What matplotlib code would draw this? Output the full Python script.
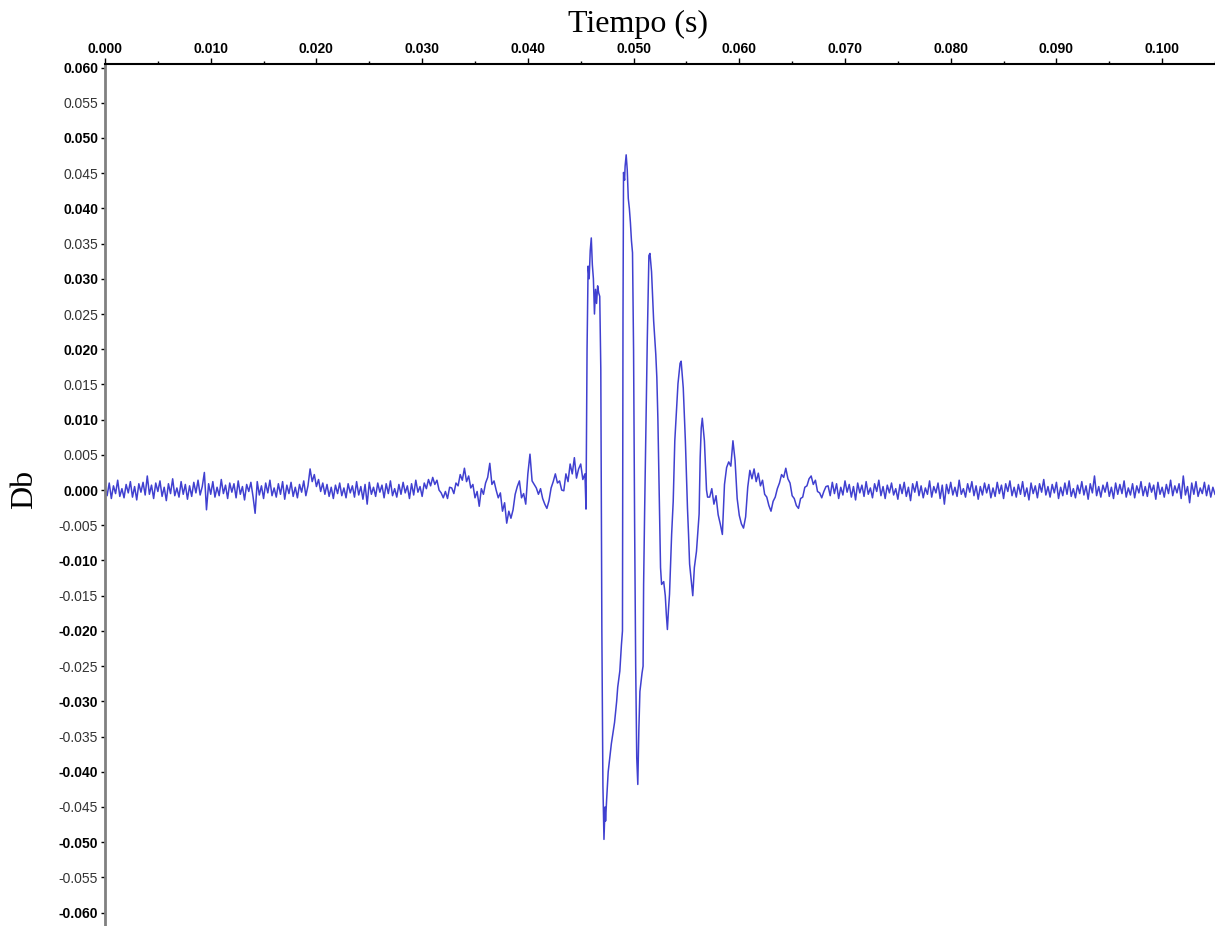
import numpy as np
import matplotlib
matplotlib.use('Agg')
import matplotlib.pyplot as plt

# Señal (unidades de 1e-4), tramo inicial en rejilla de 0.2 ms desde 0.0 ms
ruido_inicio = [
    3, -8, 10, -12, 6, -5, 14, -9, 2, -11,
    8, -4, 12, -10, 5, -14, 9, -3, 11, -7,
    20, -6, 7, -12, 10, -2, 13, -9, 4, -15,
    9, -5, 16, -8, 3, -10, 12, -6, 8, -13,
    6, -9, 11, -4, 14, -7, 5, 25, -28, 9,
    -6, 12, -10, 4, -8, 15, -5, 7, -12, 10,
    -3, 9, -11, 13, -6, 5, -14, 8, -2, 11,
    -9, -33, 12, -7, 6, -12, 10, -4, 14, -8,
    3, -10, 9, -6, 12, -13, 7, -5, 11, -9,
    4, -11, 8, -3, 13, -8, 6, 30, 12, 22,
    5, 15, -2, 10, -6, 8, -9, 4, -12, 7,
    -5, 10, -8, 3, -11, 9, -4, 6, -10, 12,
    -7, 5, -13, 8, -20, 11, -6, 4, -9, 10,
    -3, 7, -11, 9, -5, 13, -8, 2, -10, 8,
    -6, 11, -4, 6, -12, 9, -7, 14, -3, 5,
    -9, 10, 2, 15, 6, 18, 8, 14, 0, -4,
    -11, -2, -12, 4, 3, -5, 10, 6, 22, 14,
    31, 12, 20, 3, 8, -11, -2, -23, 2, -6,
    10, 18, 38, 8, 13, 0, -11, -4, -30, -18,
    -47, -30, -40, -28, -6, 5, 13, -11, -5, -20,
    23, 51, 13, 8, 3, -6, 2, -12, -20, -26,
    -15, 3, 12, 23, 10, 13, 0, -1, 23, 12,
    37, 23, 46, 17, 30, 37, 15, 23,
]

# Rafaga principal: puntos leidos (ms, 1e-4)
t_rafaga = [
    45.5, 45.6, 45.7, 45.8, 45.9, 46.0, 46.1, 46.2, 46.3, 46.4,
    46.5, 46.6, 46.7, 46.8, 46.9, 47.0, 47.1, 47.2, 47.3, 47.35,
    47.45, 47.6, 47.75, 47.9, 48.05, 48.2, 48.4, 48.5, 48.7, 48.85,
    48.95, 49.0, 49.05, 49.15, 49.2, 49.3, 49.4, 49.5, 49.6, 49.7,
    49.8, 49.9, 50.0, 50.1, 50.2, 50.3, 50.4, 50.5, 50.6, 50.8,
    50.9, 50.95, 51.05, 51.2, 51.3, 51.45, 51.55, 51.7, 51.9, 52.1,
    52.2, 52.3, 52.5, 52.55, 52.65, 52.85, 53.0, 53.1, 53.2, 53.3,
    53.4, 53.6, 53.75, 53.9, 54.2, 54.4, 54.5, 54.7, 54.9, 55.1,
    55.2, 55.3, 55.5, 55.6, 55.75, 55.95, 56.2, 56.3, 56.4, 56.5,
    56.7, 56.9, 57.0,
]
v_rafaga = [
    -27, 200, 318, 300, 340, 358, 320, 300, 250, 285,
    265, 290, 280, 275, 172, -200, -420, -496, -450, -470,
    -440, -400, -380, -360, -345, -330, -300, -280, -257, -220,
    -200, 245, 451, 440, 460, 476, 455, 414, 400, 380,
    354, 337, 198, -50, -250, -380, -418, -340, -286, -260,
    -250, -134, -26, 117, 216, 333, 336, 310, 240, 193,
    160, 101, -63, -110, -134, -130, -150, -177, -198, -170,
    -148, -63, -16, 70, 151, 180, 183, 145, 70, -26,
    -63, -105, -134, -150, -110, -87, -34, 46, 88, 102,
    70, 0, -10,
]

# Cola, rejilla de 0.2 ms desde 57.2 ms
cola = [
    -10, 2, -20, -8, -35, -48, -63, 8, 32, 40,
    34, 70, 42, -12, -36, -48, -54, -38, 4, 28,
    16, 30, 12, 24, 6, 14, -6, -10, -22, -30,
    -16, -10, 2, 10, 22, 18, 31, 16, 10, -8,
    -12, -22, -26, -12, -10, 4, 6, 16, 20, 8,
    14, -2, -4, -11, -2, 5,
    6, -8, 11, -5, 9, -12, 4, -7, 13, -3,
    8, -10, 5, -14, 10, -4, 7, -9, 12, -6,
    3, -11, 9, -2, 14, -8, 5, -12, 7, -4,
    10, -7, 2, -13, 8, -5, 11, -9, 4, -15,
    9, -3, 12, -8, 6, -11, 3, -6, 13, -10,
    5, -4, 10, -12, 7, -20, 8, -5, 11, -7,
    4, -9, 14, -6, 2, -10, 9, -3, 12, -8,
    6, -13, 5, -7, 10, -4, 8, -11, 3, -9,
    11, -5, 7, -12, 9, -2, 13, -8, 4, -10,
    8, -6, 12, -9, 3, -14, 10, -5, 6, -11,
    9, -3, 15, -7, 5, -10, 8, -4, 11, -12,
    4, -8, 10, -6, 13, -9, 2, -11, 7, -5,
    12, -7, 6, -13, 9, -4, 20, -8, 5, -10,
    7, -3, 11, -9, 4, -12, 10, -6, 8, -5,
    13, -10, 3, -7, 9, -11, 6, -4, 12, -8,
    5, -9, 10, -3, 7, -13, 11, -6, 4, -10,
    8, -5, 14, -8, 6, -4, 9, -12, 20, -7,
    5, -18, 10, -6, 12, -9, 3, -5, 11, -8,
    7, -10, 4, -6,
]

x_ticks = [0.000, 0.010, 0.020, 0.030, 0.040, 0.050, 0.060, 0.070, 0.080, 0.090, 0.100]
y_ticks = [0.060 - 0.005 * k for k in range(25)]

t1 = 0.0 + 0.2 * np.arange(len(ruido_inicio))
t3 = 57.2 + 0.2 * np.arange(len(cola))
tiempo = np.concatenate([t1, np.array(t_rafaga), t3]) / 1000.0
valor = np.concatenate([ruido_inicio, v_rafaga, cola]) / 10000.0

plt.rcParams['axes.unicode_minus'] = False
fig = plt.figure(figsize=(12.15, 9.26), dpi=100, facecolor='white')
ax = fig.add_axes([105 / 1215, 0.0, 1 - 105 / 1215, 1 - 64 / 926])

ax.plot(tiempo, valor, color='#4040d0', linewidth=1.1)

ax.set_xlim(0, 0.10494)
ax.set_ylim(-0.0619, 0.0605)

for lado in ['right', 'bottom']:
    ax.spines[lado].set_visible(False)
ax.spines['left'].set_color('#808080')
ax.spines['left'].set_linewidth(2)
ax.spines['top'].set_color('black')
ax.spines['top'].set_linewidth(1.5)

ax.xaxis.tick_top()
ax.set_xticks(x_ticks)
ax.set_xticks([v + 0.005 for v in x_ticks], minor=True)
ax.set_xticklabels(['%.3f' % v for v in x_ticks],
                   fontfamily='Liberation Sans', fontweight='bold', fontsize=10)
ax.tick_params(axis='x', which='major', direction='out', length=4, width=1, pad=2)
ax.tick_params(axis='x', which='minor', direction='out', length=2, width=1)

ax.set_yticks(y_ticks)
etiquetas = ax.set_yticklabels(['%.3f' % v if abs(v) > 1e-9 else '0.000' for v in y_ticks],
                               fontfamily='Liberation Sans', fontsize=10)
for v, et in zip(y_ticks, etiquetas):
    if int(round(v * 1000)) % 10 == 0:
        et.set_fontweight('bold')
        et.set_color('black')
    else:
        et.set_color('#333333')
ax.tick_params(axis='y', which='major', direction='out', length=3, width=1, pad=2)

fig.text(637.5 / 1215, 1 - 31.7 / 926, 'Tiempo (s)', ha='center', va='baseline',
         fontfamily='Liberation Serif', fontsize=23)
fig.text(24.5 / 1215, 1 - 489 / 926, 'Db', ha='center', va='center', rotation=90,
         fontfamily='Liberation Serif', fontsize=23)

fig.savefig('out.png', dpi=100, facecolor='white')
plt.close()
